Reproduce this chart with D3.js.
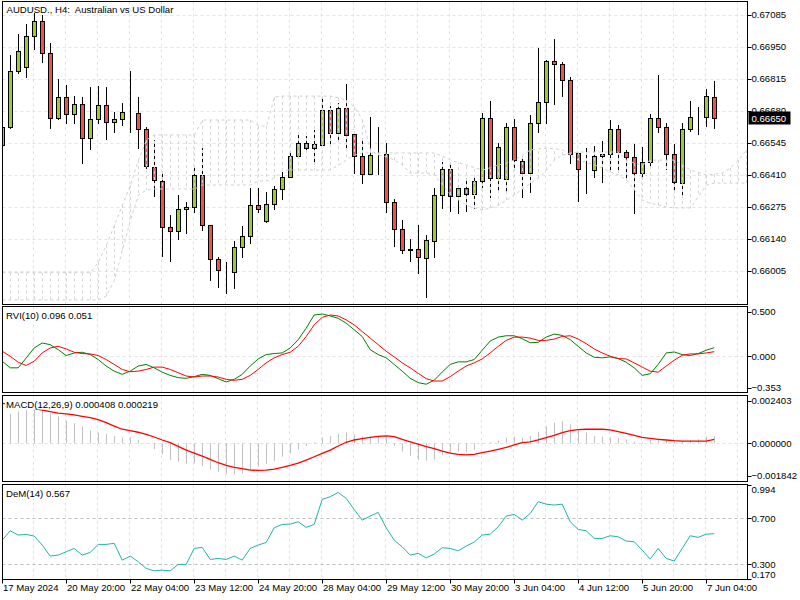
<!DOCTYPE html>
<html>
<head>
<meta charset="utf-8">
<script src="https://cdn.jsdelivr.net/npm/d3@7"></script>
<style>
  body { margin: 0; background: #fff; }
  svg { display: block; }
  text { font-family: "Liberation Sans", Arial, sans-serif; font-size: 9.6px; fill: #000; white-space: pre; }
</style>
</head>
<body>
<svg id="chart" width="800" height="600"></svg>
<script>
// ---- data (H4 bars, 17 May 12:00 .. 7 Jun 08:00) ----
const timeTickIdx = [0, 8, 16, 24, 32, 40, 48, 56, 64, 72, 80, 88];
const timeTickLabels = ["17 May 2024", "20 May 20:00", "22 May 04:00", "23 May 12:00", "24 May 20:00",
  "28 May 04:00", "29 May 12:00", "30 May 20:00", "3 Jun 04:00", "4 Jun 12:00", "5 Jun 20:00", "7 Jun 04:00"];

const priceTicks = [0.67085, 0.66950, 0.66815, 0.66680, 0.66545, 0.66410, 0.66275, 0.66140, 0.66005];
const lastPrice = 0.66650;

const open = [0.66537,0.66613,0.66849,0.66866,0.66996,0.67060,0.66925,0.66650,0.66739,0.66667,
  0.66710,0.66566,0.66646,0.66705,0.66635,0.66646,0.66671,0.66672,0.66604,0.66444,
  0.66385,0.66191,0.66174,0.66267,0.66275,0.66410,0.66199,0.66055,0.66005,0.66001,
  0.66106,0.66153,0.66283,0.66216,0.66288,0.66351,0.66402,0.66490,0.66545,0.66524,
  0.66537,0.66684,0.66587,0.66693,0.66583,0.66490,0.66414,0.66494,0.66499,0.66296,
  0.66182,0.66094,0.66098,0.66060,0.66132,0.66326,0.66435,0.66322,0.66355,0.66330,
  0.66385,0.66650,0.66397,0.66393,0.66613,0.66469,0.66418,0.66629,0.66718,0.66891,
  0.66878,0.66811,0.66503,0.66433,0.66431,0.66490,0.66499,0.66604,0.66507,0.66486,
  0.66418,0.66465,0.66650,0.66613,0.66499,0.66376,0.66604,0.66655,0.66655,0.66739];
const high = [0.66621,0.66916,0.67005,0.67047,0.67093,0.67085,0.66967,0.66815,0.66790,0.66743,
  0.66739,0.66781,0.66785,0.66781,0.66676,0.66714,0.66849,0.66739,0.66613,0.66558,
  0.66423,0.66241,0.66326,0.66296,0.66452,0.66524,0.66199,0.66064,0.66043,0.66132,
  0.66195,0.66355,0.66355,0.66338,0.66364,0.66423,0.66503,0.66583,0.66575,0.66600,
  0.66735,0.66701,0.66714,0.66794,0.66591,0.66558,0.66655,0.66613,0.66545,0.66309,
  0.66220,0.66140,0.66199,0.66157,0.66355,0.66465,0.66452,0.66368,0.66397,0.66397,
  0.66672,0.66722,0.66545,0.66629,0.66646,0.66486,0.66663,0.66946,0.66895,0.66984,
  0.66887,0.66823,0.66507,0.66524,0.66532,0.66553,0.66642,0.66621,0.66516,0.66541,
  0.66528,0.66667,0.66832,0.66629,0.66541,0.66629,0.66722,0.66697,0.66773,0.66807];
const low = [0.66528,0.66608,0.66840,0.66823,0.66942,0.66887,0.66608,0.66646,0.66629,0.66629,
  0.66461,0.66520,0.66629,0.66562,0.66591,0.66621,0.66591,0.66524,0.66440,0.66322,
  0.66068,0.66047,0.66140,0.66165,0.66254,0.66178,0.65967,0.65938,0.65912,0.65933,
  0.66064,0.66123,0.66254,0.66212,0.66267,0.66309,0.66402,0.66490,0.66520,0.66469,
  0.66537,0.66537,0.66558,0.66528,0.66418,0.66376,0.66414,0.66414,0.66254,0.66110,
  0.66081,0.66047,0.65997,0.65895,0.66064,0.66271,0.66258,0.66250,0.66258,0.66271,
  0.66359,0.66317,0.66338,0.66338,0.66431,0.66317,0.66338,0.66591,0.66629,0.66710,
  0.66743,0.66461,0.66300,0.66334,0.66402,0.66381,0.66431,0.66431,0.66402,0.66250,
  0.66402,0.66440,0.66591,0.66435,0.66351,0.66326,0.66596,0.66583,0.66617,0.66608];
const close = [0.66613,0.66849,0.66933,0.66996,0.67060,0.66925,0.66650,0.66739,0.66667,0.66710,
  0.66566,0.66646,0.66705,0.66634,0.66646,0.66676,0.66671,0.66604,0.66448,0.66389,
  0.66191,0.66174,0.66267,0.66275,0.66410,0.66199,0.66055,0.66009,0.66005,0.66106,
  0.66153,0.66283,0.66267,0.66288,0.66351,0.66402,0.66490,0.66545,0.66524,0.66541,
  0.66684,0.66587,0.66693,0.66579,0.66490,0.66414,0.66494,0.66494,0.66296,0.66182,
  0.66094,0.66096,0.66064,0.66136,0.66326,0.66435,0.66322,0.66355,0.66330,0.66385,
  0.66650,0.66397,0.66528,0.66613,0.66473,0.66418,0.66629,0.66718,0.66891,0.66878,
  0.66811,0.66499,0.66435,0.66433,0.66490,0.66499,0.66604,0.66507,0.66486,0.66418,
  0.66465,0.66650,0.66613,0.66499,0.66381,0.66604,0.66655,0.66655,0.66743,0.66650];

// ichimoku cloud, shifted forward so it runs past the last bar
const spanA = [0.65998,0.65998,0.65998,0.65998,0.65998,0.65998,0.65998,0.65998,0.65998,0.65998,
  0.65998,0.65998,0.66043,0.66115,0.66199,0.66283,0.66368,0.66473,0.66558,0.66579,
  0.66579,0.66579,0.66579,0.66579,0.66579,0.66642,0.66642,0.66642,0.66642,0.66642,
  0.66642,0.66642,0.66617,0.66617,0.66739,0.66743,0.66743,0.66743,0.66743,0.66743,
  0.66743,0.66743,0.66735,0.66726,0.66697,0.66642,0.66516,0.66494,0.66486,0.66473,
  0.66452,0.66418,0.66418,0.66418,0.66410,0.66368,0.66326,0.66304,0.66283,0.66271,
  0.66262,0.66271,0.66283,0.66304,0.66326,0.66351,0.66376,0.66397,0.66431,0.66473,
  0.66494,0.66503,0.66507,0.66507,0.66507,0.66507,0.66507,0.66507,0.66473,0.66460,
  0.66452,0.66473,0.66473,0.66473,0.66473,0.66452,0.66431,0.66420,0.66410,0.66414,
  0.66418,0.66440,0.66473,0.66516];
const spanB = [0.65883,0.65883,0.65883,0.65883,0.65883,0.65883,0.65883,0.65883,0.65883,0.65883,
  0.65883,0.65883,0.65883,0.65900,0.65967,0.66094,0.66220,0.66326,0.66347,0.66351,
  0.66351,0.66351,0.66351,0.66351,0.66351,0.66368,0.66368,0.66368,0.66368,0.66368,
  0.66368,0.66368,0.66385,0.66385,0.66397,0.66431,0.66431,0.66431,0.66431,0.66431,
  0.66431,0.66431,0.66452,0.66473,0.66494,0.66503,0.66503,0.66503,0.66503,0.66503,
  0.66503,0.66503,0.66503,0.66503,0.66503,0.66490,0.66473,0.66462,0.66452,0.66441,
  0.66431,0.66441,0.66452,0.66462,0.66473,0.66494,0.66516,0.66520,0.66524,0.66520,
  0.66516,0.66494,0.66473,0.66462,0.66452,0.66440,0.66423,0.66410,0.66389,0.66347,
  0.66304,0.66290,0.66283,0.66275,0.66271,0.66271,0.66271,0.66320,0.66368,0.66376,
  0.66376,0.66376,0.66376,0.66376];

const rviMain = [-0.056,-0.13,-0.13,-0.02,0.093,0.149,0.13,0.074,0.008,0.037,
  0.045,0.019,-0.037,-0.11,-0.167,-0.203,-0.167,-0.11,-0.092,-0.13,
  -0.178,-0.215,-0.24,-0.248,-0.229,-0.203,-0.215,-0.252,-0.289,-0.259,
  -0.203,-0.11,-0.03,0.019,0.03,0.037,0.093,0.186,0.315,0.463,
  0.474,0.452,0.426,0.371,0.297,0.222,0.074,0.019,-0.018,-0.092,
  -0.167,-0.248,-0.296,-0.314,-0.27,-0.178,-0.092,-0.063,-0.063,-0.037,
  0.067,0.171,0.215,0.23,0.23,0.197,0.152,0.156,0.215,0.249,
  0.234,0.186,0.111,0.037,-0.011,-0.018,-0.007,-0.026,-0.067,-0.13,
  -0.215,-0.196,-0.092,0.037,0.048,0.019,0.008,0.03,0.067,0.096];
const rviSignal = [0.056,0.0,-0.067,-0.103,-0.056,0.037,0.093,0.111,0.082,0.045,
  0.03,0.026,0.008,-0.037,-0.092,-0.148,-0.174,-0.167,-0.148,-0.122,
  -0.122,-0.148,-0.185,-0.222,-0.233,-0.222,-0.222,-0.233,-0.259,-0.27,
  -0.259,-0.215,-0.148,-0.074,-0.018,0.019,0.045,0.111,0.222,0.352,
  0.437,0.463,0.452,0.408,0.352,0.278,0.204,0.13,0.056,-0.007,
  -0.074,-0.13,-0.192,-0.252,-0.278,-0.278,-0.229,-0.167,-0.11,-0.074,
  -0.03,0.037,0.111,0.178,0.215,0.215,0.204,0.178,0.178,0.193,
  0.222,0.23,0.193,0.141,0.082,0.037,0.0,-0.026,-0.03,-0.074,
  -0.122,-0.167,-0.178,-0.11,-0.044,0.011,0.026,0.026,0.037,0.051];
const rviTicks = [0.5, 0, -0.353];

const macdMain = [0.00161,0.00167,0.00180,0.00189,0.00189,0.00189,0.00170,0.00152,0.00129,0.00114,
  0.00095,0.00072,0.00061,0.00053,0.00042,0.00034,0.00034,0.00019,0.00002,-0.00032,
  -0.00063,-0.00095,-0.00104,-0.00114,-0.00114,-0.00129,-0.00148,-0.00161,-0.00176,-0.00176,
  -0.00170,-0.00152,-0.00133,-0.00117,-0.00100,-0.00076,-0.00057,-0.00034,-0.00015,0.00006,
  0.00032,0.00042,0.00057,0.00061,0.00051,0.00042,0.00038,0.00042,0.00032,-0.00015,
  -0.00047,-0.00070,-0.00095,-0.00098,-0.00091,-0.00066,-0.00057,-0.00047,-0.00051,-0.00034,
  -0.00004,0.00006,0.00015,0.00032,0.00038,0.00032,0.00042,0.00066,0.00095,0.00117,
  0.00127,0.00108,0.00080,0.00061,0.00042,0.00038,0.00034,0.00028,0.00023,0.00009,
  0.00006,0.00019,0.00023,0.00015,0.00013,0.00013,0.00019,0.00023,0.00038,0.000408];
const macdSignal = [0.00227,0.00222,0.00214,0.00206,0.00197,0.00188,0.00180,0.00172,0.00167,0.00161,
  0.00153,0.00146,0.00134,0.00117,0.00098,0.00080,0.00072,0.00063,0.00051,0.00036,
  0.00019,0.00004,-0.00017,-0.00038,-0.00055,-0.00072,-0.00091,-0.00110,-0.00125,-0.00136,
  -0.00144,-0.00152,-0.00153,-0.00152,-0.00146,-0.00136,-0.00125,-0.00112,-0.00095,-0.00076,
  -0.00057,-0.00038,-0.00015,0.00006,0.00019,0.00027,0.00034,0.00040,0.00042,0.00038,
  0.00023,0.00009,-0.00004,-0.00019,-0.00030,-0.00044,-0.00055,-0.00063,-0.00066,-0.00063,
  -0.00053,-0.00044,-0.00034,-0.00023,-0.00009,0.00004,0.00008,0.00019,0.00032,0.00045,
  0.00061,0.00072,0.00078,0.00080,0.00080,0.00080,0.00076,0.00066,0.00057,0.00045,
  0.00034,0.00028,0.00023,0.00019,0.00015,0.00013,0.00013,0.00013,0.00013,0.000219];
const macdTicks = [0.002403, 0, -0.001842];

const demarker = [0.511,0.592,0.555,0.561,0.546,0.468,0.372,0.381,0.410,0.439,
  0.381,0.404,0.474,0.474,0.483,0.337,0.372,0.323,0.265,0.244,
  0.250,0.244,0.300,0.300,0.439,0.448,0.343,0.352,0.343,0.372,
  0.337,0.439,0.468,0.491,0.618,0.648,0.650,0.671,0.622,0.648,
  0.865,0.888,0.926,0.874,0.778,0.685,0.720,0.752,0.618,0.511,
  0.453,0.381,0.396,0.357,0.390,0.445,0.439,0.418,0.459,0.494,
  0.555,0.563,0.627,0.720,0.735,0.685,0.743,0.845,0.824,0.816,
  0.824,0.671,0.604,0.592,0.526,0.526,0.549,0.540,0.503,0.497,
  0.424,0.346,0.439,0.352,0.329,0.439,0.549,0.535,0.563,0.567];
const demTicks = [0.994, 0.7, 0.3, 0.170];
const demLevels = [0.7, 0.3];

// ---- layout ----
const svg = d3.select("#chart");
const left = 2.5, axisX = 747.5;
const pMain = { top: 1.5, bottom: 304.5 };
const pRvi = { top: 306.5, bottom: 392.5 };
const pMacd = { top: 395.5, bottom: 481.5 };
const pDem = { top: 484.5, bottom: 579.5 };

const x = d3.scaleLinear().domain([0, 89]).range([2.2, 714.2]);
const cx = i => Math.round(x(i)) + 0.5;
const yPrice = d3.scaleLinear().domain([0.66005, 0.67085]).range([271, 15]);
const yRvi = d3.scaleLinear().domain([-0.353, 0.5]).range([387.7, 311.7]);
const yMacd = d3.scaleLinear().domain([-0.001842, 0.002403]).range([475.8, 401.0]);
const yDem = d3.scaleLinear().domain([0.3, 0.7]).range([564.4, 518.4]);
const snap = v => Math.round(v) + 0.5;

const gridColor = "#e2e2e2";
const bars = d3.range(open.length);
const cloudIdx = d3.range(spanA.length);
const gridIdx = d3.range(0, 94, 4);

function panel(name, p) {
  svg.append("clipPath").attr("id", "clip-" + name)
    .append("rect").attr("x", left).attr("y", p.top).attr("width", axisX - left).attr("height", p.bottom - p.top);
  const g = svg.append("g").attr("clip-path", `url(#clip-${name})`);
  g.selectAll("line.vgrid").data(gridIdx).enter().append("line")
    .attr("x1", i => Math.round(x(i)) - 0.5).attr("x2", i => Math.round(x(i)) - 0.5)
    .attr("y1", p.top).attr("y2", p.bottom)
    .attr("stroke", gridColor).attr("stroke-dasharray", "3,3");
  return g;
}
function frame(p) {
  svg.append("rect").attr("x", left).attr("y", p.top)
    .attr("width", axisX - left).attr("height", p.bottom - p.top)
    .attr("fill", "none").attr("stroke", "#000");
}
function hgrid(g, values, y, color) {
  g.selectAll(null).data(values).enter().append("line")
    .attr("x1", left).attr("x2", axisX)
    .attr("y1", d => snap(y(d))).attr("y2", d => snap(y(d)))
    .attr("stroke", color || gridColor).attr("stroke-dasharray", "3,3");
}
function rightAxis(values, y, p, fmt) {
  const g = svg.append("g");
  values.forEach(v => {
    const ty = Math.min(Math.max(y(v), p.top), p.bottom);
    const ly = Math.min(Math.max(y(v), p.top + 5), p.bottom - 5);
    g.append("line").attr("x1", axisX).attr("x2", axisX + 4)
      .attr("y1", snap(ty)).attr("y2", snap(ty)).attr("stroke", "#000");
    g.append("text").attr("x", axisX + 4).attr("y", ly + 3.4).text(fmt(v));
  });
}
function label(p, txt) {
  const t = svg.append("text").attr("x", 6).attr("y", p.top + 12).text(txt);
  const b = t.node().getBBox();
  svg.insert("rect", () => t.node()).attr("x", b.x - 1).attr("y", b.y)
    .attr("width", b.width + 2).attr("height", b.height).attr("fill", "#fff");
}

// ---- main price panel ----
const gm = panel("main", pMain);
hgrid(gm, priceTicks, yPrice);

const candle = gm.selectAll("g.candle").data(bars).enter().append("g");
candle.append("line")
  .attr("x1", cx).attr("x2", cx)
  .attr("y1", i => Math.round(yPrice(high[i]))).attr("y2", i => Math.round(yPrice(low[i])) + 1)
  .attr("stroke", "#000");
candle.append("rect")
  .attr("x", i => cx(i) - 2).attr("width", 4)
  .attr("y", i => snap(yPrice(Math.max(open[i], close[i]))))
  .attr("height", i => Math.max(0, Math.round(yPrice(Math.min(open[i], close[i]))) - Math.round(yPrice(Math.max(open[i], close[i])))))
  .attr("fill", i => close[i] > open[i] ? "#9acd32" : close[i] < open[i] ? "#f0524f" : "#000")
  .attr("stroke", "#000");

// cloud hatching and edges, drawn over the candles
gm.selectAll("line.hatch").data(cloudIdx).enter().append("line")
  .attr("x1", cx).attr("x2", cx)
  .attr("y1", i => yPrice(spanA[i])).attr("y2", i => yPrice(spanB[i]))
  .attr("stroke", "#d6d6d6").attr("stroke-dasharray", "3,3");
[spanA, spanB].forEach(s => {
  gm.append("path").datum(cloudIdx)
    .attr("d", d3.line().x(cx).y(i => yPrice(s[i])))
    .attr("fill", "none").attr("stroke", "#d0d0d0").attr("stroke-dasharray", "3,3");
});
frame(pMain);
rightAxis(priceTicks, yPrice, pMain, d3.format(".5f"));

// last price marker
const lpY = yPrice(lastPrice);
svg.append("rect").attr("x", axisX + 1).attr("y", Math.round(lpY) - 6.5).attr("width", 42).attr("height", 13).attr("fill", "#000");
svg.append("text").attr("x", axisX + 4).attr("y", lpY + 3.6).style("fill", "#fff").text(lastPrice.toFixed(5));
svg.append("text").attr("x", 6.5).attr("y", 12.7).text("AUDUSD., H4:  Australian vs US Dollar");

// ---- RVI ----
const gr = panel("rvi", pRvi);
hgrid(gr, [0], yRvi);
gr.append("path").datum(bars).attr("d", d3.line().x(i => x(i)).y(i => yRvi(rviMain[i])))
  .attr("fill", "none").attr("stroke", "#008000");
gr.append("path").datum(bars).attr("d", d3.line().x(i => x(i)).y(i => yRvi(rviSignal[i])))
  .attr("fill", "none").attr("stroke", "#ff0000");
frame(pRvi);
rightAxis(rviTicks, yRvi, pRvi, d3.format(".3f"));
label(pRvi, `RVI(10) ${rviMain[89].toFixed(3)} ${rviSignal[89].toFixed(3)}`);

// ---- MACD ----
const gc = panel("macd", pMacd);
hgrid(gc, [0], yMacd);
gc.selectAll("line.hist").data(bars).enter().append("line")
  .attr("x1", cx).attr("x2", cx)
  .attr("y1", yMacd(0)).attr("y2", i => yMacd(macdMain[i]))
  .attr("stroke", "#c0c0c0").attr("stroke-width", 1);
gc.append("path").datum(bars).attr("d", d3.line().x(i => x(i)).y(i => yMacd(macdSignal[i])))
  .attr("fill", "none").attr("stroke", "#ff0000").attr("stroke-width", 1.3);
frame(pMacd);
rightAxis(macdTicks, yMacd, pMacd, d3.format(".6f"));
label(pMacd, `MACD(12,26,9) ${macdMain[89].toFixed(6)} ${macdSignal[89].toFixed(6)}`);

// ---- DeMarker ----
const gd = panel("dem", pDem);
hgrid(gd, demLevels, yDem, "#bdbdbd");
gd.append("path").datum(bars).attr("d", d3.line().x(i => x(i)).y(i => yDem(demarker[i])))
  .attr("fill", "none").attr("stroke", "#20b2aa");
frame(pDem);
rightAxis(demTicks, yDem, pDem, d3.format(".3f"));
label(pDem, `DeM(14) ${demarker[89].toFixed(3)}`);

// ---- time axis ----
const gt = svg.append("g");
timeTickIdx.forEach((idx, k) => {
  const tx = Math.round(x(idx)) + 0.5;
  gt.append("line").attr("x1", tx).attr("x2", tx).attr("y1", pDem.bottom).attr("y2", pDem.bottom + 4).attr("stroke", "#000");
  gt.append("text").attr("x", tx + 0.5).attr("y", 591).text(timeTickLabels[k]);
});
</script>
</body>
</html>
